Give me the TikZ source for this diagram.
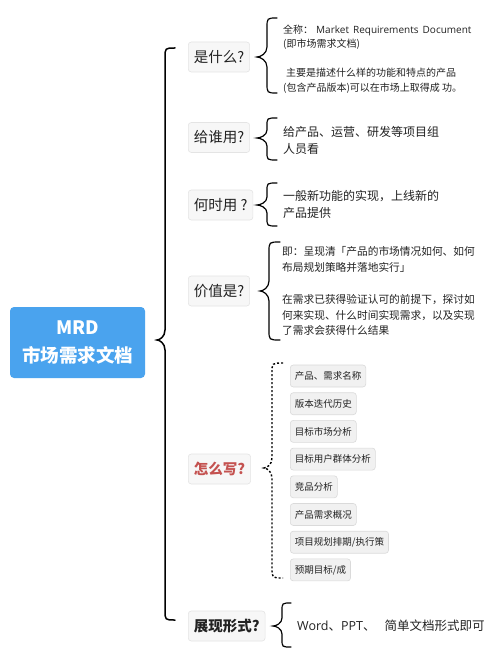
\documentclass[tikz,border=0pt]{standalone}
\usepackage{fontspec}
\setmainfont{Noto Sans CJK SC}
\newfontfamily\latinwide{Open Sans}
\definecolor{mrdblue}{RGB}{74,163,238}
\definecolor{catfill}{RGB}{247,247,247}
\definecolor{catline}{RGB}{228,228,228}
\definecolor{itemfill}{RGB}{241,241,241}
\definecolor{itemline}{RGB}{218,218,218}
\definecolor{textdark}{RGB}{34,34,34}
\definecolor{howred}{RGB}{196,82,80}
\newcommand{\curlybrace}[8][]{%
  \draw[#1] (#3,#5) .. controls (#2,#5) and (#2,#5) .. (#2,{#5+#8})
    -- (#2,{#6-#8}) .. controls (#2,{#6-#8/3}) and ({#4+(#2-#4)/3},#6) .. (#4,#6)
    .. controls ({#4+(#2-#4)/3},#6) and (#2,{#6+#8/3}) .. (#2,{#6+#8})
    -- (#2,{#7-#8}) .. controls (#2,#7) and (#2,#7) .. (#3,#7);}
\begin{document}
\begin{tikzpicture}[x=1pt,y=-1pt,
  mainbox/.style={fill=mrdblue, rounded corners=4pt, text=white,
    font=\fontsize{18.5}{28}\selectfont\bfseries, align=center,
    minimum width=135pt, minimum height=71pt, inner sep=0pt},
  catbox/.style={fill=catfill, draw=catline, line width=0.6pt, rounded corners=3pt,
    font=\fontsize{14.5}{17}\selectfont, text=textdark, minimum height=30pt,
    inner xsep=5.5pt, anchor=west},
  itembox/.style={fill=itemfill, draw=itemline, line width=0.6pt, rounded corners=3pt,
    font=\fontsize{9.5}{11}\selectfont, text=textdark, minimum height=22pt,
    inner xsep=4.5pt, anchor=west},
  detail/.style={anchor=west, align=left, inner sep=0pt, text=textdark},
  bracestyle/.style={line width=1.2pt, line cap=round},
  bigbrace/.style={line width=1.5pt, line cap=round},
  dotbrace/.style={line width=1.4pt, dash pattern=on 2pt off 2pt}]
\useasboundingbox[fill=white] (0,0) rectangle (500,652);

% main node
\node[mainbox] (mrd) at (77.5,342.5) {MRD\\市场需求文档};

% big brace
\curlybrace[bigbrace]{165}{175}{157}{48}{340}{620}{10}

% categories
\node[catbox] (what) at (188,57) {是什么?};
\node[catbox] (who) at (188,137.5) {给谁用?};
\node[catbox] (when) at (188,205) {何时用 ?};
\node[catbox] (value) at (188,291) {价值是?};
\node[catbox, text=howred, font=\fontsize{14.5}{17}\selectfont\bfseries] (how) at (188,469) {怎么写?};
\node[catbox, font=\fontsize{14.5}{17}\selectfont\bfseries] (form) at (188,626) {展现形式?};

% small braces
\curlybrace[bracestyle]{267}{277}{257}{18}{57}{93}{10}
\curlybrace[bracestyle]{267}{277}{257}{118}{138}{160}{8}
\curlybrace[bracestyle]{267}{277}{257}{183}{205}{226}{8}
\curlybrace[bracestyle]{269}{280}{260}{242}{291}{340}{10}
\curlybrace[dotbrace]{272}{283}{264}{363}{468}{578}{10}
\curlybrace[bracestyle]{282}{291}{273}{603}{626}{647}{8}

% details
\node[detail, font=\fontsize{10}{14}\selectfont] (whatA) at (283,37)
  {全称：\hspace{3pt}{\latinwide Market\hspace{1.5pt} Requirements\hspace{1.5pt} Document}\\(即市场需求文档)};
\node[detail, font=\fontsize{10}{15}\selectfont] (whatB) at (283,80.5)
  {\hspace{3pt}主要是描述什么样的功能和特点的产品\\(包含产品版本)可以在市场上取得成 功。};
\node[detail, font=\fontsize{12}{17}\selectfont] (whoA) at (283,140)
  {给产品、运营、研发等项目组\\人员看};
\node[detail, font=\fontsize{12}{17}\selectfont] (whenA) at (283,204)
  {一般新功能的实现，上线新的\\产品提供};
\node[detail, font=\fontsize{10.7}{15.3}\selectfont] (valueA) at (282,259.5)
  {即：呈现清「产品的市场情况如何、如何\\布局规划策略并落地实行」};
\node[detail, font=\fontsize{10.7}{15.3}\selectfont] (valueB) at (282,315)
  {在需求已获得验证认可的前提下，探讨如\\何来实现、什么时间实现需求，以及实现\\了需求会获得什么结果};
\node[detail, font=\fontsize{12.5}{15}\selectfont] (formA) at (297,626)
  {{\latinwide Word}、{\latinwide PPT}、\hspace{9pt}简单文档形式即可};

% items
\node[itembox] (i1) at (290,376) {产品、需求名称};
\node[itembox] (i2) at (290,403.7) {版本迭代历史};
\node[itembox] (i3) at (290,431.4) {目标市场分析};
\node[itembox] (i4) at (290,459.1) {目标用户群体分析};
\node[itembox] (i5) at (290,486.8) {竞品分析};
\node[itembox] (i6) at (290,514.5) {产品需求概况};
\node[itembox] (i7) at (290,542.2) {项目规划排期/执行策};
\node[itembox] (i8) at (290,569.9) {预期目标/成};
\end{tikzpicture}
\end{document}
